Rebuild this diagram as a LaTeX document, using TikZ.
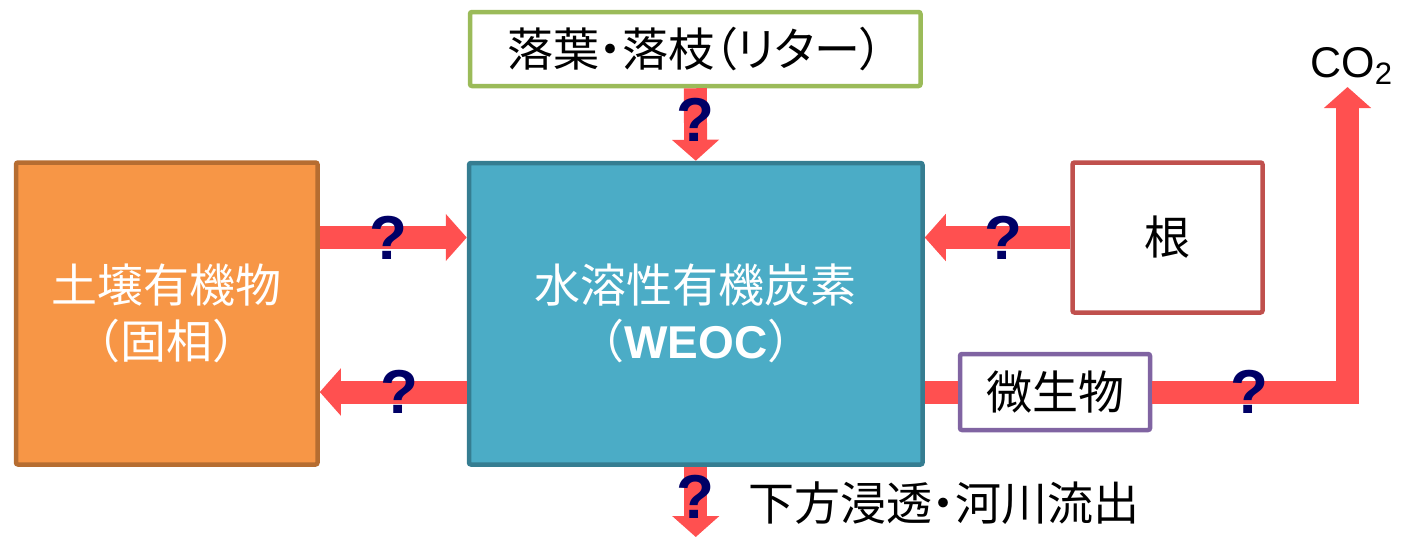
\documentclass[tikz,border=0pt]{standalone}
\usepackage{fontspec}
\usetikzlibrary{arrows.meta}
\setmainfont{Noto Sans CJK JP}
\newfontfamily\paltfont{Noto Sans CJK JP}[RawFeature=+palt]
\newfontfamily\arialfont{Liberation Sans}

\definecolor{soilfill}{HTML}{F79646}
\definecolor{soilline}{HTML}{B66D31}
\definecolor{weocfill}{HTML}{4BACC6}
\definecolor{weocline}{HTML}{357D91}
\definecolor{litterline}{HTML}{9BBB59}
\definecolor{rootline}{HTML}{C0504D}
\definecolor{microline}{HTML}{8064A2}
\definecolor{flowred}{RGB}{255,80,80}
\definecolor{qnavy}{RGB}{0,0,102}

\begin{document}
\begin{tikzpicture}[x=0.5pt,y=-0.5pt,
box/.style={draw,line width=2.25pt,rounded corners=1pt,inner sep=0pt,align=center,font=\fontsize{23}{28}\selectfont},
flow/.style={draw=flowred,line width=11.5pt,line join=miter,-{Triangle[width=23pt,length=10.5pt]}},
bar/.style={draw=flowred,line width=11.5pt},
ask/.style={text=qnavy,inner sep=0pt,font=\arialfont\bfseries\fontsize{31}{31}\selectfont}]

\useasboundingbox (0,0) rectangle (1401,537);

% pools
\node[box,fill=soilfill,draw=soilline,text=white,minimum width=150.75pt,minimum height=151pt] (soil) at (166.75,313.5) {土壌有機物\\（固相）};
\node[box,fill=weocfill,draw=weocline,text=white,minimum width=226.75pt,minimum height=150.75pt] (weoc) at (695.75,313.75) {水溶性有機炭素\\（{\arialfont\bfseries WEOC}）};
\node[box,fill=white,draw=litterline,minimum width=225.25pt,minimum height=37pt] (litter) at (695.25,49) {\paltfont 落葉・落枝（リター）};
\node[box,fill=white,draw=rootline,minimum width=95pt,minimum height=75pt] (root) at (1167.5,237.5) {根};
\node[box,fill=white,draw=microline,minimum width=95pt,minimum height=38pt] (microbe) at (1055,392) {微生物};

% outflows
\node[anchor=base west,inner sep=0pt,font=\arialfont\fontsize{21.5}{21.5}\selectfont] (co2) at (1310,77) {CO\raisebox{-3.5pt}{\fontsize{15.5}{15.5}\selectfont 2}};
\node[anchor=west,inner sep=0pt,font=\fontsize{23}{28}\selectfont] (drain) at (748,503) {\paltfont 下方浸透・河川流出};
\coordinate (out) at (1347.5,87);
\coordinate (bottom) at (695.75,537);

% fluxes
\draw[flow] (soil.east |- root) -- node[ask,pos=.47] {?} (weoc.west |- root);
\draw[flow] (weoc.west |- microbe) -- node[ask,pos=.46] {?} (soil.east |- microbe);
\draw[flow] (litter.south) -- node[ask,pos=.43] {?} (weoc.north);
\draw[flow] (root.west) -- node[ask,pos=.46] {?} (weoc.east |- root);
\draw[bar] (weoc.east |- microbe) -- (microbe.west);
\draw[flow] (microbe.east) -| node[ask,pos=.25] {?} (out);
\draw[flow] (weoc.south) -- node[ask,pos=.43] {?} (bottom);

\end{tikzpicture}
\end{document}
